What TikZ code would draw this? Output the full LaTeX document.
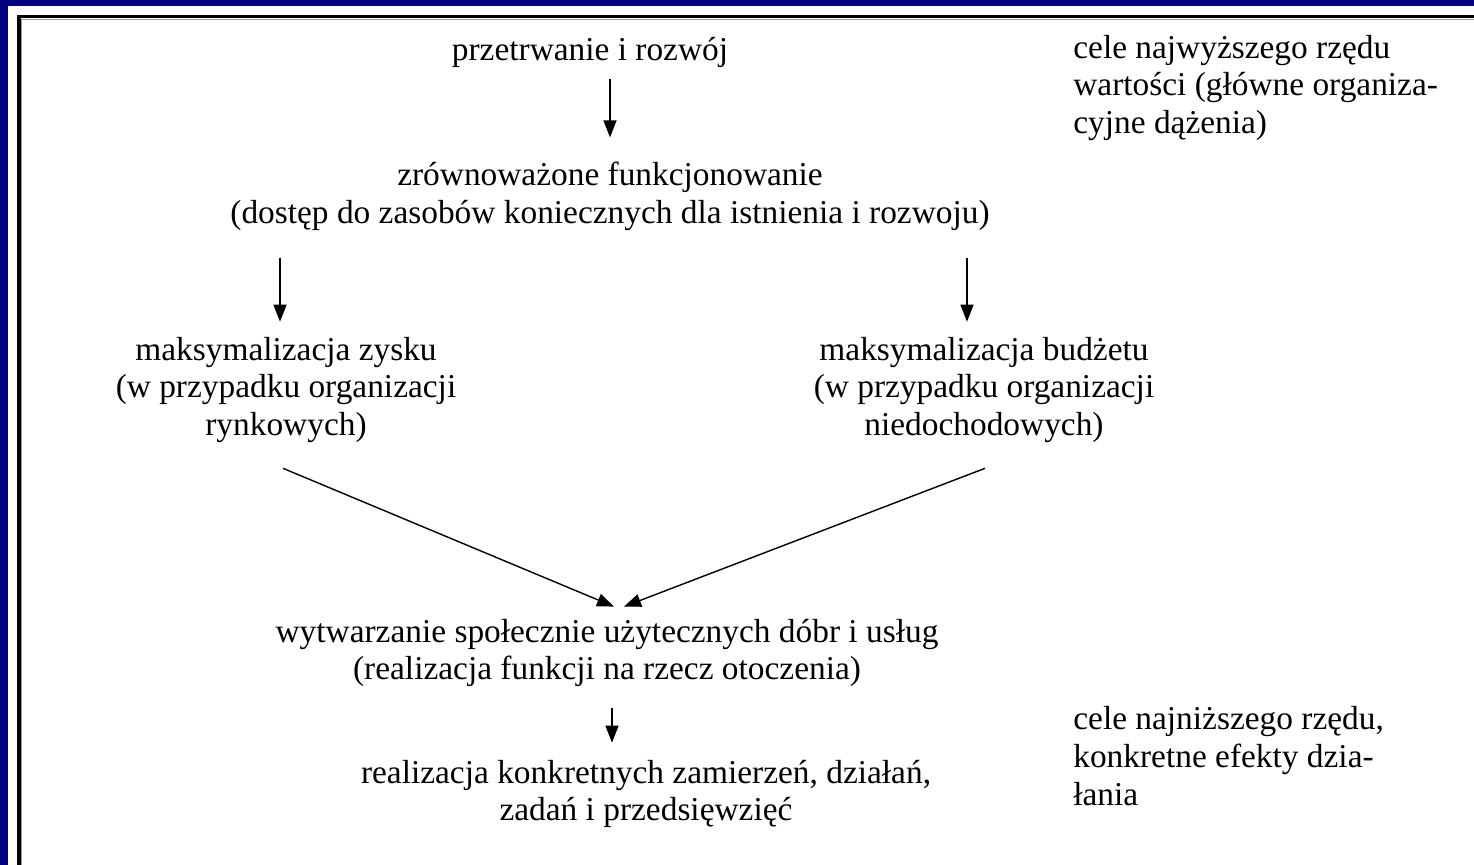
\documentclass[tikz,border=0pt]{standalone}
\usepackage{fontspec}
\setmainfont{Liberation Serif}
\usetikzlibrary{arrows.meta,calc}

\begin{document}
\begin{tikzpicture}[x=0.02cm,y=-0.02cm,
    txt/.style={inner sep=0pt,align=center,font=\fontsize{19pt}{21.5pt}\selectfont},
    side/.style={txt,align=left,anchor=west},
    arr/.style={line width=0.8pt,-{Triangle[length=0.34cm,width=0.26cm]}}]
    % Define picture size
    \def\picwidth{1474}
    \def\picheight{865}
    \useasboundingbox (0,0) rectangle (\picwidth,\picheight);

    % Background and frame
    \fill[blue!50!black] (0,0) rectangle (\picwidth,\picheight);
    \fill[white] (8,6) rectangle (\picwidth,\picheight);
    \draw[line width=0.07cm] (19,\picheight) -- (19,16.5) -- (\picwidth,16.5);
    \draw[black!40,line width=0.01cm] (21.5,\picheight) -- (21.5,19.5) -- (\picwidth,19.5);

    % Main chain
    \node[txt] (prz) at (590,52) {przetrwanie i rozwój};
    \node[txt] (zrow) at (610,196) {zrównoważone funkcjonowanie\\(dostęp do zasobów koniecznych dla istnienia i rozwoju)};
    \node[txt] (zysk) at (286,390) {maksymalizacja zysku\\(w przypadku organizacji\\rynkowych)};
    \node[txt] (budz) at (984,390) {maksymalizacja budżetu\\(w przypadku organizacji\\niedochodowych)};
    \node[txt] (wytw) at (607,653) {wytwarzanie społecznie użytecznych dóbr i usług\\(realizacja funkcji na rzecz otoczenia)};
    \node[txt] (real) at (646,794) {realizacja konkretnych zamierzeń, działań,\\zadań i przedsięwzięć};

    % Side notes
    \node[side] (gora) at (1073,88) {cele najwyższego rzędu\\wartości (główne organiza-\\cyjne dążenia)};
    \node[side] (dol) at (1073,756) {cele najniższego rzędu,\\konkretne efekty dzia-\\łania};

    % Arrows
    \draw[arr] ($(prz.south -| zrow.north)+(0,11)$) -- ($(zrow.north)+(0,-24)$);
    \draw[arr] ($(zrow.south -| zysk.north)+(-6,27)$) -- ($(zysk.north)+(-6,-15)$);
    \draw[arr] ($(zrow.south -| budz.north)+(-17,27)$) -- ($(budz.north)+(-17,-15)$);
    \draw[arr] ($(zysk.south)+(-3,25)$) -- ($(wytw.north)+(7,-12)$);
    \draw[arr] ($(budz.south)+(1,25)$) -- ($(wytw.north)+(17,-12)$);
    \draw[arr] ($(wytw.south)+(5,21)$) -- ($(real.north)+(-34,-17)$);
\end{tikzpicture}
\end{document}
